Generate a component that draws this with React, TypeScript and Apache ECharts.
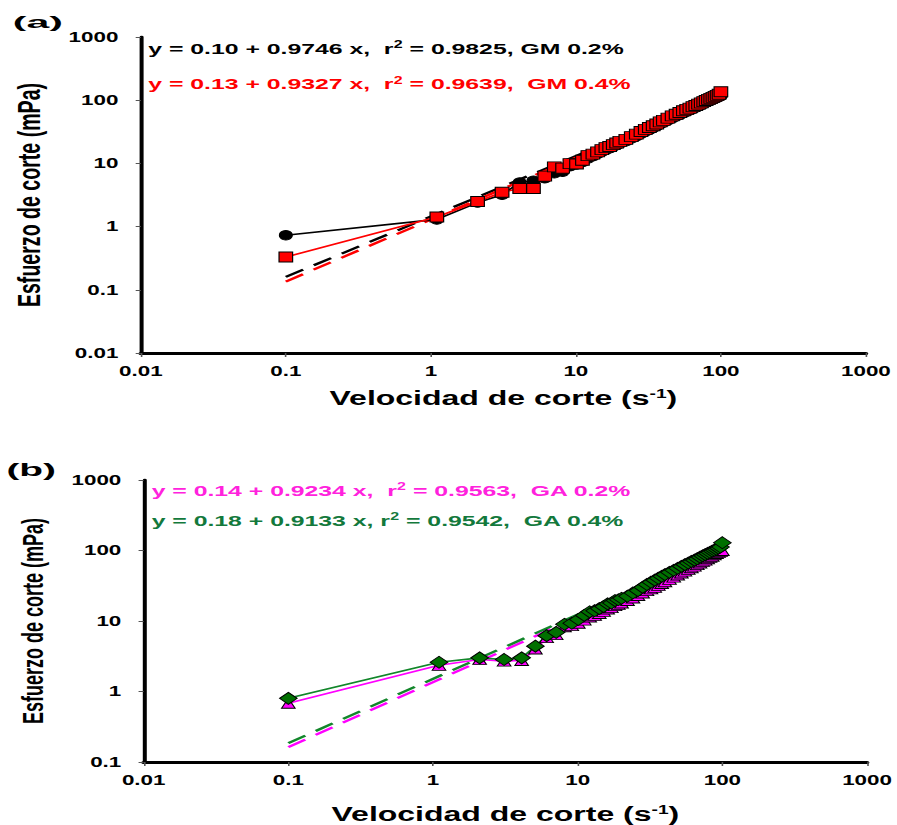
import React, { useEffect, useRef } from 'react';
import * as echarts from 'echarts';

// ---------- data ----------
const SHEAR_RATE = [
  0.1, 1.1, 2.1, 3.1, 4.1, 5.1, 6.1, 7.1, 8.1, 9.1,
  10.1, 11.1, 12.1, 13.1, 14.1, 15.1, 16.1, 17.1, 18.1, 19.1,
  20.1, 22.1, 24.1, 26.1, 28.1, 30.1, 32.1, 34.1, 36.1, 38.1,
  40.1, 43.1, 46.1, 49.1, 52.1, 55.1, 58.1, 61.1, 64.1, 67.1,
  70.1, 73.1, 76.1, 79.1, 82.1, 85.1, 88.1, 91.1, 94.1, 97.1,
  100,
];

// (a) GM 0.2 % (black circles)
const GM_02 = [
  0.73, 1.3, 2.4, 3.2, 5.0, 5.3, 5.8, 7.0, 7.4, 9.0,
  9.6, 10.5, 12.0, 13.0, 14.2, 15.3, 16.5, 17.4, 18.5, 19.6,
  20.7, 22.5, 24.8, 27.0, 29.5, 32.0, 34.0, 36.5, 39.0, 42.0,
  44.5, 48.0, 52.0, 55.5, 59.0, 62.5, 66.0, 69.5, 73.0, 76.5,
  80.0, 84.0, 88.0, 92.0, 96.0, 100, 103, 107, 110, 114,
  118,
];

// (a) GM 0.4 % (red squares)
const GM_04 = [
  0.33, 1.42, 2.5, 3.5, 4.0, 4.0, 6.3, 8.8, 8.4, 9.9,
  9.8, 11.2, 13.3, 14.0, 15.2, 16.5, 17.8, 18.5, 19.8, 21.0,
  22.3, 24.0, 26.5, 29.0, 32.0, 34.5, 37.0, 39.5, 42.0, 45.5,
  48.0, 52.0, 56.5, 60.0, 64.0, 68.0, 71.5, 75.0, 79.0, 82.5,
  86.5, 90.5, 95.0, 99.0, 103, 107, 111, 115, 119, 124,
  136,
];

// (b) GA 0.2 % (magenta triangles)
const GA_02 = [
  0.68, 2.35, 2.85, 2.7, 2.75, 4.0, 5.8, 6.4, 8.3, 8.6,
  9.3, 10.3, 11.4, 12.0, 12.8, 13.7, 14.8, 15.5, 16.5, 17.2,
  18.0, 19.5, 21.2, 23.0, 25.0, 27.0, 28.5, 30.0, 32.0, 34.0,
  36.0, 39.0, 42.0, 45.0, 48.0, 51.0, 54.0, 57.0, 60.0, 63.0,
  66.5, 70.0, 73.0, 76.5, 80.0, 83.0, 87.0, 90.5, 94.0, 97.0,
  100,
];

// (b) GA 0.4 % (green diamonds)
const GA_04 = [
  0.80, 2.6, 3.0, 2.85, 3.0, 4.4, 6.2, 6.9, 9.0, 9.3,
  10.5, 12.0, 13.5, 14.0, 15.0, 16.0, 17.5, 18.0, 19.5, 20.0,
  21.0, 22.5, 25.0, 27.0, 30.0, 33.0, 35.5, 38.0, 40.5, 43.0,
  45.5, 49.0, 52.5, 56.0, 59.5, 63.0, 66.5, 70.0, 73.0, 76.5,
  80.5, 84.0, 87.5, 91.0, 94.5, 98.0, 101, 104, 108, 112,
  129,
];

// fitted power-law lines (end points)
const FIT_X = [0.1, 100];
const FIT_GM_02 = [0.16, 118];
const FIT_GM_04 = [0.135, 118];
const FIT_GA_02 = [0.162, 95];
const FIT_GA_04 = [0.185, 101];

// tick labels
const X_TICKS = [0.01, 0.1, 1, 10, 100, 1000];
const X_TICK_LABELS = ['0.01', '0.1', '1', '10', '100', '1000'];
const Y_TICKS_A = [0.01, 0.1, 1, 10, 100, 1000];
const Y_TICK_LABELS_A = ['0.01', '0.1', '1', '10', '100', '1000'];
const Y_TICKS_B = [0.1, 1, 10, 100, 1000];
const Y_TICK_LABELS_B = ['0.1', '1', '10', '100', '1000'];

const EQ_A = [
  'y = 0.10 + 0.9746 x,  r{sup|2} = 0.9825, GM 0.2%',
  'y = 0.13 + 0.9327 x,  r{sup|2} = 0.9639,  GM 0.4%',
];
const EQ_B = [
  'y = 0.14 + 0.9234 x,  r{sup|2} = 0.9563,  GA 0.2%',
  'y = 0.18 + 0.9133 x, r{sup|2} = 0.9542,  GA 0.4%',
];

// ---------- style ----------
const STRETCH = 1.6;
const W = 897;
const H = 825;
const FONT = 'Liberation Sans, Arial, sans-serif';
const C_BLACK = '#000000';
const C_RED = '#ff0000';
const C_MAGENTA = '#ff00ff';
const C_GREEN_LINE = '#12862a';
const C_GREEN_FILL = '#007000';
const C_GREEN_TEXT = '#13793c';
const C_MAGENTA_TEXT = '#ff22dd';

const pairs = (xs: number[], ys: number[]) => xs.map((x, i) => [x, ys[i]]);

const tickFormatter = (ticks: number[], labels: string[]) => (v: number) => {
  const e = Math.round(Math.log10(v));
  const i = ticks.findIndex((t) => Math.round(Math.log10(t)) === e);
  return i >= 0 ? labels[i] : '';
};

const labelStyle = {
  fontFamily: FONT,
  fontWeight: 'bold' as const,
  fontSize: 14,
  color: '#000',
};

function makeX(gridIndex: number, nameGap: number) {
  return {
    type: 'log',
    logBase: 10,
    gridIndex,
    min: 0.01,
    max: 1000,
    axisLine: { show: true, lineStyle: { color: '#000', width: 3 } },
    axisTick: { show: true, length: 4, lineStyle: { color: '#555', width: 1 } },
    minorTick: { show: false },
    splitLine: { show: false },
    axisLabel: { ...labelStyle, margin: 11, formatter: tickFormatter(X_TICKS, X_TICK_LABELS) },
    name: 'Velocidad de corte (s{sup|-1})',
    nameLocation: 'middle',
    nameGap,
    nameTextStyle: {
      fontFamily: FONT,
      fontWeight: 'bold',
      fontSize: 20,
      color: '#000',
      rich: {
        sup: { fontFamily: FONT, fontWeight: 'bold', fontSize: 12, color: '#000', verticalAlign: 'top' },
      },
    },
  };
}

function makeY(gridIndex: number, min: number, ticks: number[], labels: string[], nameSize: number, nameGap: number) {
  return {
    type: 'log',
    logBase: 10,
    gridIndex,
    min,
    max: 1000,
    axisLine: { show: true, lineStyle: { color: '#000', width: 2.5 } },
    axisTick: { show: true, length: 3.2, lineStyle: { color: '#555', width: 1 } },
    minorTick: { show: false },
    splitLine: { show: false },
    axisLabel: { ...labelStyle, margin: 14, formatter: tickFormatter(ticks, labels) },
    name: 'Esfuerzo de corte (mPa)',
    nameLocation: 'middle',
    nameRotate: 90,
    nameGap,
    nameTextStyle: { fontFamily: FONT, fontWeight: 'bold', fontSize: nameSize, color: '#000' },
  };
}

function fitSeries(axis: number, ys: number[], color: string) {
  return {
    type: 'line',
    xAxisIndex: axis,
    yAxisIndex: axis,
    data: pairs(FIT_X, ys),
    symbol: 'none',
    silent: true,
    lineStyle: { color, width: 2.2, type: [13, 8] },
    z: 2,
  };
}

function dataSeries(axis: number, ys: number[], symbol: string, size: number[], fill: string, line: string) {
  return {
    type: 'line',
    xAxisIndex: axis,
    yAxisIndex: axis,
    data: pairs(SHEAR_RATE, ys),
    symbol,
    symbolSize: size,
    showSymbol: true,
    itemStyle: { color: fill, borderColor: '#000', borderWidth: 0.8 },
    lineStyle: { color: line, width: 1.6 },
    z: 3,
  };
}

function eqText(x: number, y: number, text: string, color: string) {
  return {
    type: 'text',
    x,
    y,
    silent: true,
    style: {
      text,
      fill: color,
      fontFamily: FONT,
      fontWeight: 'bold',
      fontSize: 15.5,
      verticalAlign: 'top',
      rich: {
        sup: { fill: color, fontFamily: FONT, fontWeight: 'bold', fontSize: 10, verticalAlign: 'top' },
      },
    },
  };
}

const option = {
  animation: false,
  backgroundColor: '#ffffff',
  grid: [
    { left: 87.8, top: 37, width: 453.4, height: 316 },
    { left: 89.8, top: 480, width: 452.1, height: 285.7 },
  ],
  xAxis: [makeX(0, 35), makeX(1, 42)],
  yAxis: [
    makeY(0, 0.01, Y_TICKS_A, Y_TICK_LABELS_A, 19.6, 60),
    makeY(1, 0.1, Y_TICKS_B, Y_TICK_LABELS_B, 18, 60),
  ],
  series: [
    fitSeries(0, FIT_GM_02, C_BLACK),
    fitSeries(0, FIT_GM_04, C_RED),
    dataSeries(0, GM_02, 'circle', [8, 9.5], C_BLACK, C_BLACK),
    dataSeries(0, GM_04, 'rect', [8.5, 10], C_RED, C_RED),
    fitSeries(1, FIT_GA_02, C_MAGENTA),
    fitSeries(1, FIT_GA_04, C_GREEN_LINE),
    dataSeries(1, GA_02, 'triangle', [8.5, 10], C_MAGENTA, C_MAGENTA),
    dataSeries(1, GA_04, 'diamond', [11, 12], C_GREEN_FILL, C_GREEN_LINE),
  ],
  graphic: [
    {
      type: 'text', x: 8, y: 15, scaleX: 1.6, silent: true,
      style: { text: '(a)', fill: '#000', fontFamily: FONT, fontWeight: 'bold', fontSize: 16, verticalAlign: 'top' },
    },
    {
      type: 'text', x: 4, y: 461, scaleX: 1.35, silent: true,
      style: { text: '(b)', fill: '#000', fontFamily: FONT, fontWeight: 'bold', fontSize: 18, verticalAlign: 'top' },
    },
    eqText(92.7, 40, EQ_A[0], C_BLACK),
    eqText(92.7, 75.5, EQ_A[1], C_RED),
    eqText(94.8, 482, EQ_B[0], C_MAGENTA_TEXT),
    eqText(94.8, 512, EQ_B[1], C_GREEN_TEXT),
  ],
};

export default function App() {
  const ref = useRef<HTMLDivElement>(null);
  useEffect(() => {
    if (!ref.current) return;
    const chart = echarts.init(ref.current, undefined, { renderer: 'svg' });
    chart.setOption(option as any);
    return () => chart.dispose();
  }, []);
  return (
    <div style={{ position: 'absolute', left: 0, top: 0, width: W, height: H, overflow: 'hidden', background: '#fff' }}>
      <div
        ref={ref}
        style={{ width: W / STRETCH, height: H, transform: `scaleX(${STRETCH})`, transformOrigin: '0 0' }}
      />
    </div>
  );
}
